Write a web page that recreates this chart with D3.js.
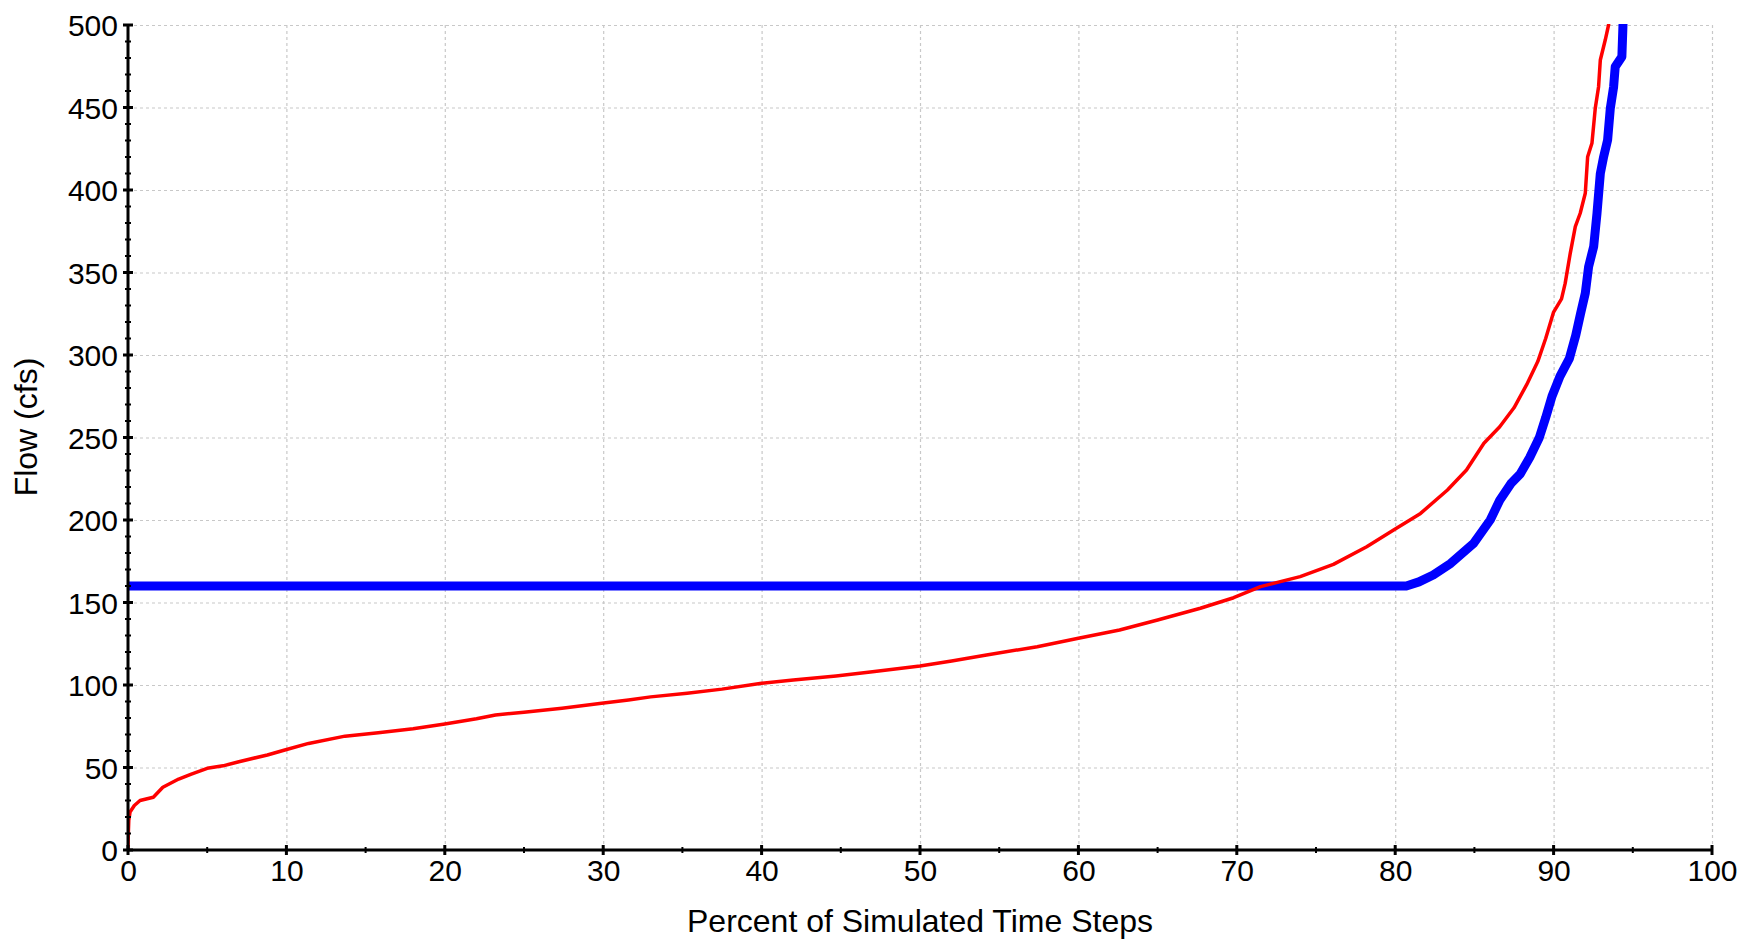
<!DOCTYPE html>
<html>
<head>
<meta charset="utf-8">
<script src="https://cdn.jsdelivr.net/npm/d3@7"></script>
<style>
  html, body { margin: 0; padding: 0; background: #fff; }
  svg { display: block; }
  text { font-family: "Liberation Sans", Arial, sans-serif; fill: #000; }
</style>
</head>
<body>
<svg id="chart" width="1743" height="948"></svg>
<script>
// ---------------- DATA ----------------
const xTicks = [0, 10, 20, 30, 40, 50, 60, 70, 80, 90, 100];
const yTicks = [0, 50, 100, 150, 200, 250, 300, 350, 400, 450, 500];
const xLabel = "Percent of Simulated Time Steps";
const yLabel = "Flow (cfs)";

// Red series: percent of time steps vs flow
const redPct = [0, 0.02, 0.05, 0.13, 0.4, 0.76, 1.6, 2.2, 3.2, 4.0, 5.0, 6.0, 7.0, 8.8, 9.9, 11.4, 13.7, 15.8, 18, 20, 22, 23.2, 25, 27.4, 29.9, 31.6, 33, 35.3, 37.5, 40, 42, 44.7, 47, 50, 52, 54.2, 57.4, 60, 62.6, 65, 67.7, 69.8, 71.5, 74, 76.1, 78.2, 79.9, 81.6, 83.3, 84.5, 85.6, 86.6, 87.5, 88.3, 89.0, 89.5, 90.0, 90.5, 90.73, 91.05, 91.37, 91.68, 92.0, 92.15, 92.42, 92.63, 92.84, 92.95, 93.26, 93.47, 93.6];
const redFlow = [0, 10, 18, 23, 27, 30, 32, 38, 43, 46, 49.5, 51, 53.5, 57.6, 60.6, 64.6, 69, 71, 73.5, 76.4, 79.5, 81.8, 83.5, 85.9, 88.9, 90.9, 92.8, 95, 97.5, 101, 103, 105.5, 108, 111.5, 114.5, 118.2, 123.2, 128.3, 133.3, 139.4, 146.5, 152.9, 159.6, 165.7, 173.1, 183.8, 193.9, 204, 218.2, 230.3, 246.5, 256.5, 268, 282, 296, 310, 326, 334, 343.4, 361.6, 377.8, 385.9, 398, 420.2, 428.3, 449.5, 462.6, 478.8, 490.9, 500, 520];

// Blue series
const bluePct = [0, 80.7, 81.5, 82.4, 83.5, 84.95, 86.0, 86.6, 87.3, 87.9, 88.5, 89.1, 89.5, 89.9, 90.4, 91.0, 91.4, 91.7, 92.0, 92.21, 92.53, 92.74, 92.95, 93.16, 93.41, 93.58, 93.79, 93.89, 94.31, 94.38, 94.45];
const blueFlow = [160, 160, 162.5, 166.7, 173.7, 185.9, 200, 212, 222, 228, 238, 250, 262, 275, 287, 298, 312, 325, 337.4, 353.5, 365.7, 385.9, 410, 420.2, 430.3, 449.5, 462.6, 474.7, 480.8, 500, 520];

// ---------------- CHART ----------------
const svg = d3.select("#chart");
const pLeft = 128, pRight = 1712, pTop = 25, pBottom = 850;

const x = d3.scaleLinear().domain([0, 100]).range([pLeft, pRight]);
const y = d3.scaleLinear().domain([0, 500]).range([pBottom, pTop]);

// clip
svg.append("defs").append("clipPath").attr("id", "plotclip")
  .append("rect").attr("x", pLeft).attr("y", pTop - 1).attr("width", pRight - pLeft + 2).attr("height", pBottom - pTop + 1);

// gridlines
const grid = svg.append("g").attr("class", "grid");
grid.append("g").attr("transform", `translate(0,${pBottom})`)
  .call(d3.axisBottom(x).tickValues(xTicks.filter(d => d > 0)).tickSize(-(pBottom - pTop)).tickFormat(""))
  .call(g => g.select(".domain").remove())
  .call(g => g.selectAll("line").attr("stroke", "#c8c8c8").attr("stroke-width", 1.2).attr("stroke-dasharray", "3,3"));
grid.append("g").attr("transform", `translate(${pLeft},0)`)
  .call(d3.axisLeft(y).tickValues(yTicks.filter(d => d > 0)).tickSize(-(pRight - pLeft)).tickFormat(""))
  .call(g => g.select(".domain").remove())
  .call(g => g.selectAll("line").attr("stroke", "#c8c8c8").attr("stroke-width", 1.2).attr("stroke-dasharray", "3,3"));

// lines
const line = d3.line().x(d => x(d[0])).y(d => y(d[1])).curve(d3.curveLinear);
const blueData = bluePct.map((p, i) => [p, blueFlow[i]]);
const redData = redPct.map((p, i) => [p, redFlow[i]]);

const plot = svg.append("g").attr("clip-path", "url(#plotclip)");
plot.append("path").datum(blueData).attr("d", line)
  .attr("fill", "none").attr("stroke", "#0000ff").attr("stroke-width", 9).attr("stroke-linejoin", "round");
plot.append("path").datum(redData).attr("d", line)
  .attr("fill", "none").attr("stroke", "#ff0000").attr("stroke-width", 3.5).attr("stroke-linejoin", "round");

// axes
const yMinor = d3.range(0, 501, 10);
const xMinor = d3.range(0, 101, 5);

const yAxis = svg.append("g").attr("transform", `translate(${pLeft},0)`);
yAxis.call(d3.axisLeft(y).tickValues(yTicks).tickSize(0).tickPadding(10))
  .call(g => g.select(".domain").remove())
  .call(g => g.selectAll("text").style("font-size", "30px").attr("dy", "0.35em"));
yAxis.append("line").attr("x1", 0).attr("x2", 0).attr("y1", pTop).attr("y2", pBottom)
  .attr("stroke", "#000").attr("stroke-width", 3);
yAxis.selectAll("line.minor").data(yMinor).enter().append("line").attr("class", "minor")
  .attr("x1", d => yTicks.includes(d) ? -5 : -3).attr("x2", d => yTicks.includes(d) ? 5 : 3)
  .attr("y1", d => y(d)).attr("y2", d => y(d))
  .attr("stroke", "#000").attr("stroke-width", d => yTicks.includes(d) ? 3 : 2);

const xAxis = svg.append("g").attr("transform", `translate(0,${pBottom})`);
xAxis.call(d3.axisBottom(x).tickValues(xTicks).tickSize(0).tickPadding(10))
  .call(g => g.select(".domain").remove())
  .call(g => g.selectAll("text").style("font-size", "30px").attr("dy", "0.71em"));
xAxis.append("line").attr("x1", pLeft).attr("x2", pRight).attr("y1", 0).attr("y2", 0)
  .attr("stroke", "#000").attr("stroke-width", 3);
xAxis.selectAll("line.minor").data(xMinor).enter().append("line").attr("class", "minor")
  .attr("y1", d => xTicks.includes(d) ? -5 : -3).attr("y2", d => xTicks.includes(d) ? 5 : 3)
  .attr("x1", d => x(d)).attr("x2", d => x(d))
  .attr("stroke", "#000").attr("stroke-width", d => xTicks.includes(d) ? 3 : 2);

// titles
svg.append("text").attr("x", (pLeft + pRight) / 2).attr("y", 932)
  .attr("text-anchor", "middle").style("font-size", "32px").text(xLabel);
svg.append("text").attr("transform", "translate(37,427) rotate(-90)")
  .attr("text-anchor", "middle").style("font-size", "32px").text(yLabel);
</script>
</body>
</html>
